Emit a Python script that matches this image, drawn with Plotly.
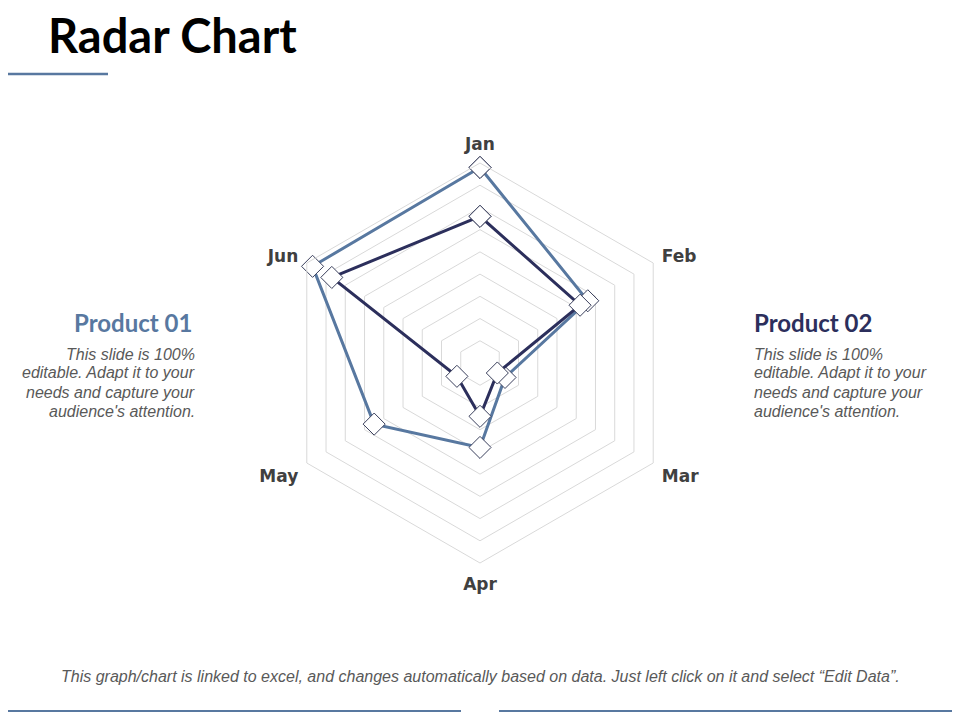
import plotly.graph_objects as go

# the page puts the plot 8px in from the top-left corner, so the figure is 8px smaller
OFF = 8
W, H = 960 - OFF, 720 - OFF

months = ["Jan", "Feb", "Mar", "Apr", "May", "Jun"]
product_01 = [44, 28, 6.5, 19, 27.5, 43.5]
product_02 = [33, 26, 4.5, 12, 6, 38.5]
ring_ticks = [5, 10, 15, 20, 25, 30, 35, 40, 45]

blue = "#5878a0"
navy = "#2c2f5c"
grey_text = "#595959"
body_lines = ["This slide is 100%", "editable. Adapt it to your",
              "needs and capture your", "audience's attention."]
footnote = ("This graph/chart is linked to excel, and changes automatically based on data. "
            "Just left click on it and select \u201cEdit Data\u201d.")


def px(x, y):
    # window pixel position -> paper coordinates
    return (x - OFF) / W, 1 - (y - OFF) / H


def closed(vals):
    return vals + vals[:1]


fig = go.Figure()
for name, vals, color in [("Product 01", product_01, blue), ("Product 02", product_02, navy)]:
    fig.add_trace(go.Scatterpolar(
        r=closed(vals),
        theta=closed(months),
        name=name,
        mode="lines+markers",
        line=dict(color=color, width=3),
        marker=dict(symbol="diamond", size=17, color="white",
                    line=dict(color="#3a3f5c", width=1)),
    ))

cx, cy, rad = 480, 363, 200
x0, y0 = px(cx - rad, cy + rad)
x1, y1 = px(cx + rad, cy - rad)

fig.update_layout(
    width=W, height=H,
    margin=dict(l=0, r=0, t=0, b=0),
    paper_bgcolor="white",
    showlegend=False,
    polar=dict(
        domain=dict(x=[x0, x1], y=[y0, y1]),
        bgcolor="white",
        gridshape="linear",
        radialaxis=dict(range=[0, 45], tickvals=ring_ticks, showticklabels=False,
                        showline=False, ticks="", gridcolor="#d9d9d9", gridwidth=1),
        angularaxis=dict(direction="clockwise", rotation=90, showgrid=False,
                         showline=True, linecolor="#d9d9d9", linewidth=1,
                         ticks="outside", ticklen=6, tickcolor="rgba(0,0,0,0)",
                         tickfont=dict(family="DejaVu Sans", size=17, color="#404040", weight="bold")),
    ),
)

# title and decoration lines
tx, ty = px(46, 35)
fig.add_annotation(x=tx, y=ty, xref="paper", yref="paper", xanchor="left", yanchor="middle",
                   text="<b>Radar Chart</b>", showarrow=False,
                   font=dict(family="Lato", size=47, color="black"))
for a, b, yy, wd in [(0, 108, 74, 2.5), (0, 461, 711, 2), (499, 960, 711, 2)]:
    xa, ya = px(a, yy)
    xb, _ = px(b, yy)
    fig.add_shape(type="line", xref="paper", yref="paper",
                  x0=xa, x1=xb, y0=ya, y1=ya, line=dict(color=blue, width=wd))

# side texts
lx, ly = px(194, 323)
fig.add_annotation(x=lx, y=ly, xref="paper", yref="paper", xanchor="right", yanchor="middle",
                   text="<b>Product 01</b>", showarrow=False,
                   font=dict(family="Lato", size=24, color=blue))
rx, ry = px(752, 323)
fig.add_annotation(x=rx, y=ry, xref="paper", yref="paper", xanchor="left", yanchor="middle",
                   text="<b>Product 02</b>", showarrow=False,
                   font=dict(family="Lato", size=24, color=navy))
for i, line in enumerate(body_lines):
    yy = 354 + 19 * i
    bx, by = px(197, yy)
    fig.add_annotation(x=bx, y=by, xref="paper", yref="paper", xanchor="right", yanchor="middle",
                       text=line, showarrow=False,
                       font=dict(family="Liberation Sans", size=16, color=grey_text, style="italic"))
    bx2, by2 = px(752, yy)
    fig.add_annotation(x=bx2, y=by2, xref="paper", yref="paper", xanchor="left", yanchor="middle",
                       text=line, showarrow=False,
                       font=dict(family="Liberation Sans", size=16, color=grey_text, style="italic"))

fx, fy = px(480, 676)
fig.add_annotation(x=fx, y=fy, xref="paper", yref="paper", xanchor="center", yanchor="middle",
                   text=footnote, showarrow=False,
                   font=dict(family="Liberation Sans", size=16, color=grey_text, style="italic"))

fig.write_html("out.html")
